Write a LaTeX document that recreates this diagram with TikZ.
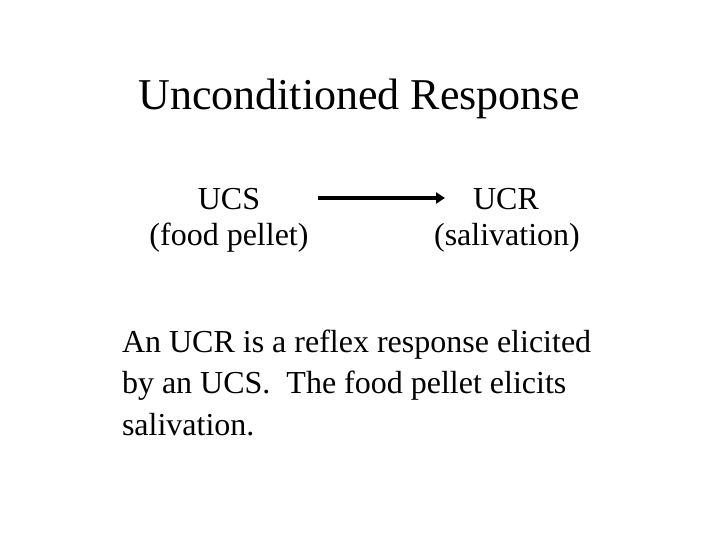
\documentclass[tikz,border=0pt]{standalone}
\usepackage{fontspec}
\setmainfont{Liberation Serif}
\usetikzlibrary{arrows.meta}
\begin{document}
\begin{tikzpicture}[x=1pt,y=-1pt,
  txt/.style={inner sep=0pt,outer sep=0pt,font=\fontsize{32}{38}\selectfont},
  ttl/.style={inner sep=0pt,outer sep=0pt,font=\fontsize{44}{50}\selectfont},
  arr/.style={line width=4pt,-{Triangle[length=9pt,width=11pt]}}]
\useasboundingbox (0,0) rectangle (720,540);
\fill[white] (0,0) rectangle (720,540);
\node[ttl,anchor=base] (title) at (359,110) {Unconditioned Response};
\node[txt,anchor=base] (ucs) at (229,210) {UCS};
\node[txt,anchor=base] (ucsb) at (229,245) {(food pellet)};
\node[txt,anchor=base] (ucr) at (506,210) {UCR};
\node[txt,anchor=base] (ucrb) at (507,245) {(salivation)};
\coordinate (a1) at (318,198);
\coordinate (a2) at (445,198);
\draw[arr] (a1) -- (a2);
\node[txt,anchor=base west] (p1) at (122,352) {An UCR is a reflex response elicited};
\node[txt,anchor=base west] (p2) at (122,393) {by an UCS.\ \ The food pellet elicits};
\node[txt,anchor=base west] (p3) at (122,435) {salivation.};
\end{tikzpicture}
\end{document}
